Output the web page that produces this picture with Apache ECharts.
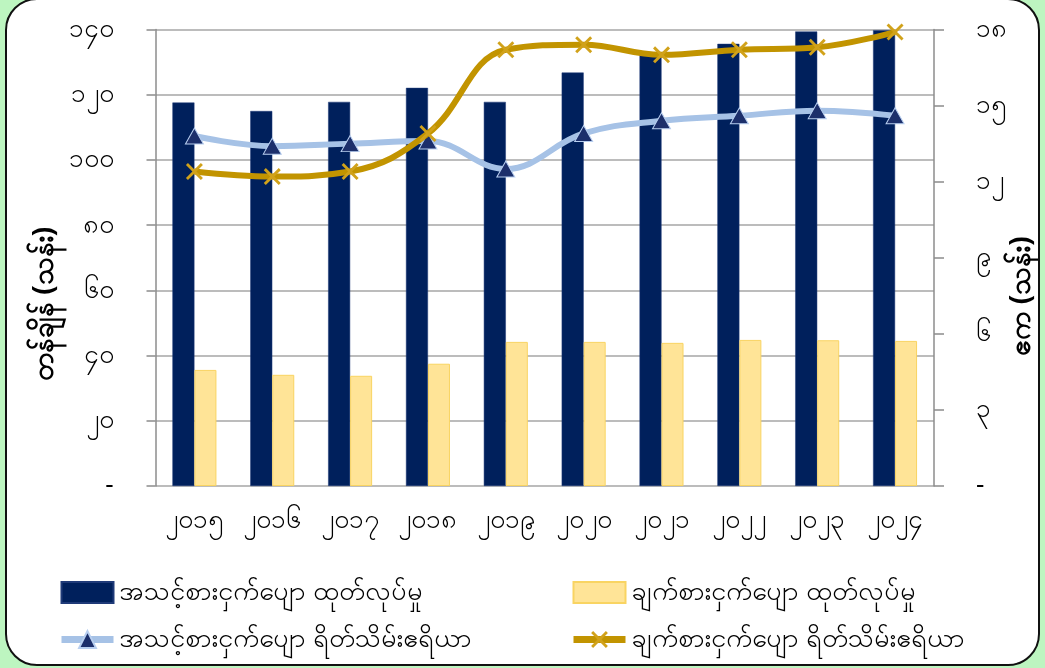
<!DOCTYPE html>
<html>
<head>
<meta charset="utf-8">
<script src="https://cdn.jsdelivr.net/npm/echarts@6/dist/echarts.min.js"></script>
<style>
html,body{margin:0;padding:0;background:#bdf5c0;}
#frame{position:absolute;left:5px;top:-2px;width:1031px;height:664px;border:2px solid #111;border-radius:32px;background:#fff;overflow:hidden;}
#chart{position:absolute;left:-7px;top:0;width:1045px;height:668px;}
</style>
</head>
<body>
<div id="frame"><div id="chart"></div></div>
<script>
const years = ['၂၀၁၅','၂၀၁၆','၂၀၁၇','၂၀၁၈','၂၀၁၉','၂၀၂၀','၂၀၂၁','၂၀၂၂','၂၀၂၃','၂၀၂၄'];
const dessertProduction = [117.6, 115.0, 117.8, 122.1, 117.8, 126.8, 132.3, 135.6, 139.4, 139.8];
const cookingProduction = [35.6, 34.1, 33.8, 37.5, 44.2, 44.2, 43.9, 44.8, 44.7, 44.5];
const dessertArea = [13.8, 13.4, 13.5, 13.6, 12.5, 13.9, 14.4, 14.6, 14.8, 14.6];
const cookingArea = [12.4, 12.2, 12.4, 13.9, 17.2, 17.4, 17.0, 17.2, 17.3, 17.9];
const leftTickLabels = ['-','၂၀','၄၀','၆၀','၈၀','၁၀၀','၁၂၀','၁၄၀'];
const rightTickLabels = ['-','၃','၆','၉','၁၂','၁၅','၁၈'];
const seriesNames = ['အသင့်စားငှက်ပျော ထုတ်လုပ်မှု','ချက်စားငှက်ပျော ထုတ်လုပ်မှု','အသင့်စားငှက်ပျော ရိတ်သိမ်းဧရိယာ','ချက်စားငှက်ပျော ရိတ်သိမ်းဧရိယာ'];
const leftAxisTitle = 'တန်ချိန် (သန်း)';
const rightAxisTitle = 'ဧက (သန်း)';

const FONT = "'Noto Sans', 'DejaVu Sans', sans-serif";
const xPath = 'path://M0,1.2 L1.2,0 L10,8.8 L8.8,10 Z M8.8,0 L10,1.2 L1.2,10 L0,8.8 Z';

const legendCommon = {
  orient:'vertical', top:579, padding:0, itemWidth:52, itemHeight:21, itemGap:20,
  textStyle:{color:'#000', fontSize:27, lineHeight:24, fontFamily:FONT},
  lineStyle:{width:7}
};

const chart = echarts.init(document.getElementById('chart'), null, {renderer:'canvas'});
chart.setOption({
  animation:false,
  textStyle:{fontFamily:FONT},
  grid:{left:155.5, right:111, top:29.5, bottom:182, containLabel:false},
  xAxis:{
    type:'category', data:years,
    axisLine:{show:false},
    axisTick:{show:false},
    axisLabel:{color:'#000', fontSize:26, margin:22, fontFamily:FONT}
  },
  yAxis:[{
    type:'value', min:0, max:140, interval:20, position:'left',
    axisLine:{show:true, lineStyle:{color:'#8c8c8c', width:1.5}},
    axisTick:{show:true, inside:false, length:9, lineStyle:{color:'#8c8c8c', width:1.5}},
    splitLine:{show:true, lineStyle:{color:'#a6a6a6', width:1.5}},
    axisLabel:{color:'#000', fontSize:26, margin:42, align:'right',
      formatter:v=>leftTickLabels[Math.round(v/20)]}
  },{
    type:'value', min:0, max:18, interval:3, position:'right',
    axisLine:{show:true, lineStyle:{color:'#8c8c8c', width:1.5}},
    axisTick:{show:true, inside:false, length:10, lineStyle:{color:'#8c8c8c', width:1.5}},
    splitLine:{show:false},
    axisLabel:{color:'#000', fontSize:26, margin:42, align:'left',
      formatter:v=>rightTickLabels[Math.round(v/3)]}
  }],
  legend:[
    Object.assign({left:58, data:[{name:seriesNames[0], icon:'rect'}, {name:seriesNames[2]}]}, legendCommon),
    Object.assign({left:570, data:[{name:seriesNames[1], icon:'rect'}, {name:seriesNames[3]}]}, legendCommon)
  ],
  graphic:[{
    type:'text', x:45, y:304, rotation:Math.PI/2,
    style:{text:leftAxisTitle, fill:'#000', font:'bold 28px '+FONT, align:'center', verticalAlign:'middle'}
  },{
    type:'text', x:1022, y:296, rotation:Math.PI/2,
    style:{text:rightAxisTitle, fill:'#000', font:'bold 28px '+FONT, align:'center', verticalAlign:'middle'}
  }],
  series:[{
    name:seriesNames[0], type:'bar', yAxisIndex:0, data:dessertProduction,
    barWidth:22, barGap:'0%',
    itemStyle:{color:'#00205c', borderColor:'#1f3a78', borderWidth:0.5}
  },{
    name:seriesNames[1], type:'bar', yAxisIndex:0, data:cookingProduction,
    barWidth:22, barGap:'0%',
    itemStyle:{color:'#ffe497', borderColor:'#f9d462', borderWidth:1}
  },{
    name:seriesNames[2], type:'line', yAxisIndex:1, data:dessertArea,
    smooth:0.4, symbol:'triangle', symbolSize:[18,16],
    lineStyle:{color:'#a6c2e6', width:6},
    itemStyle:{color:'#1c2f6b', borderColor:'#b8cff0', borderWidth:1},
    z:5
  },{
    name:seriesNames[3], type:'line', yAxisIndex:1, data:cookingArea,
    smooth:0.4, symbol:xPath, symbolSize:17,
    lineStyle:{color:'#c29400', width:6},
    itemStyle:{color:'#d1a21a'},
    z:6
  }]
});
</script>
</body>
</html>
